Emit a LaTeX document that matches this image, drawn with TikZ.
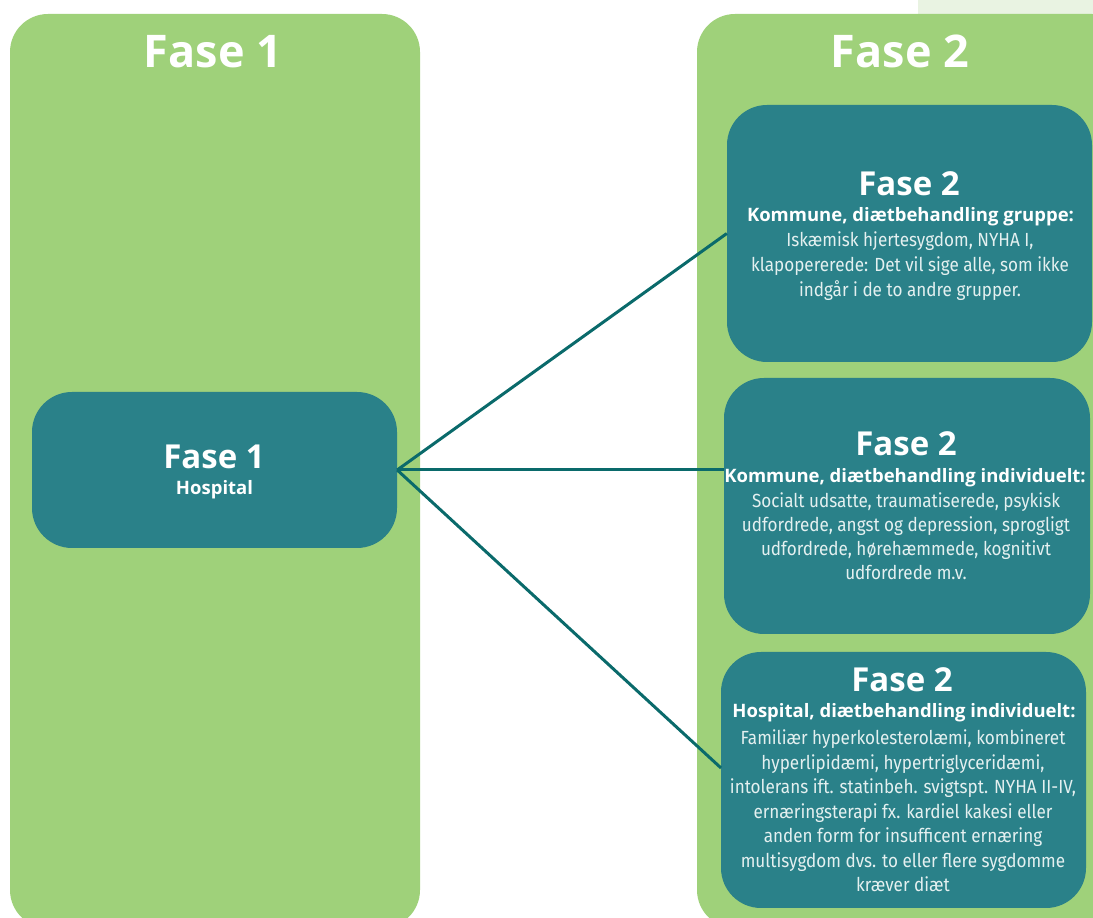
\documentclass[tikz,border=0pt]{standalone}
\usepackage{fontspec}
\setmainfont{Open Sans}
\newfontfamily\bodyfont[FakeStretch=0.9]{Fira Sans}
\definecolor{panel}{HTML}{9FD17A}
\definecolor{boxc}{HTML}{2A8189}
\definecolor{linec}{HTML}{0A6A6B}
\definecolor{patch}{HTML}{E9F3E2}
\definecolor{bodytxt}{HTML}{E4F0F0}
\tikzset{
  dbox/.style={fill=boxc, rounded corners=40pt, inner sep=0pt},
  conn/.style={draw=linec, line width=3pt},
  ptitle/.style={text=white, font=\bfseries\fontsize{45}{45}\selectfont, anchor=base, inner sep=0pt},
  btitle/.style={text=white, font=\bfseries\fontsize{33}{33}\selectfont, anchor=base, inner sep=0pt},
  bsub/.style={text=white, font=\bfseries\fontsize{18.5}{18.5}\selectfont, anchor=base, inner sep=0pt},
  bbody/.style={text=bodytxt, font=\bodyfont\fontsize{19}{24.5}\selectfont, anchor=base, inner sep=0pt, align=center},
}
\begin{document}
\begin{tikzpicture}[x=1pt,y=1pt]
\useasboundingbox (0,0) rectangle (1093,918);
\fill[patch] (918,900) rectangle (1093,918);
\fill[panel, rounded corners=38pt] (10,-10) rectangle (420,904);
\fill[panel, rounded corners=38pt] (697,-10) rectangle (1130,904);
\node[ptitle] (t1) at (213,850) {Fase 1};
\node[ptitle] (t2) at (900,850) {Fase 2};

\node[dbox, minimum width=365pt, minimum height=156pt] (b0) at (214.5,448) {};
\node[dbox, minimum width=365pt, minimum height=257pt] (b1) at (909.5,684.5) {};
\node[dbox, minimum width=366pt, minimum height=256pt] (b2) at (907,412) {};
\node[dbox, minimum width=365pt, minimum height=256pt] (b3) at (903.5,138) {};
\coordinate (e3) at (721,150);

\draw[conn] (b0.east) -- (b1.west);
\draw[conn] (b0.east) -- (b0.east -| b2.west);
\draw[conn] (b0.east) -- (e3);

\node[btitle] (h0) at (214,449) {Fase 1};
\node[bsub] (s0) at (214.5,423) {Hospital};

\node[btitle] (h1) at (909,722) {Fase 2};
\node[bsub] (s1) at (910.5,696) {Kommune, diætbehandling gruppe:};
\node[bbody, font=\bodyfont\fontsize{19}{25}\selectfont] (x1) at (910,621) {Iskæmisk hjertesygdom, NYHA I,\\klapopererede: Det vil sige alle, som ikke\\indgår i de to andre grupper.};

\node[btitle] (h2) at (906,462) {Fase 2};
\node[bsub] (s2) at (905,435) {Kommune, diætbehandling individuelt:};
\node[bbody, font=\bodyfont\fontsize{19}{24}\selectfont] (x2) at (906,338) {Socialt udsatte, traumatiserede, psykisk\\udfordrede, angst og depression, sprogligt\\udfordrede, hørehæmmede, kognitivt\\udfordrede m.v.};

\node[btitle] (h3) at (902,226) {Fase 2};
\node[bsub] (s3) at (904,200) {Hospital, diætbehandling individuelt:};
\node[bbody] (x3) at (903,26) {Familiær hyperkolesterolæmi, kombineret\\hyperlipidæmi, hypertriglyceridæmi,\\intolerans ift. statinbeh. svigtspt. NYHA II-IV,\\ernæringsterapi fx. kardiel kakesi eller\\anden form for insufficent ernæring\\multisygdom dvs. to eller flere sygdomme\\kræver diæt};
\end{tikzpicture}
\end{document}
